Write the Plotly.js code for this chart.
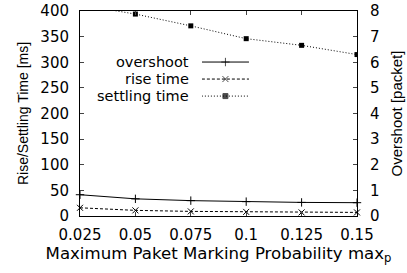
<!DOCTYPE html>
<html><head><meta charset="utf-8">
<script src="https://cdn.plot.ly/plotly-3.0.1.min.js"></script>
<style>html,body{margin:0;padding:0;background:#fff}#c{width:407px;height:273px}</style>
</head><body><div id="c"></div>
<script>
const probs = [0.025, 0.05, 0.075, 0.1, 0.125, 0.15];
const xTickText = ["0.025", "0.05", "0.075", "0.1", "0.125", "0.15"];
const overshootPackets = [0.83, 0.67, 0.60, 0.56, 0.53, 0.52];
const riseTimeMs = [16, 11, 9, 8, 7, 7];
const settlingTimeMs = [412, 394, 371, 346, 333, 315];
const seriesNames = ["overshoot", "rise time", "settling time"];
const leftTicks = [0, 50, 100, 150, 200, 250, 300, 350, 400];
const rightTicks = [0, 1, 2, 3, 4, 5, 6, 7, 8];

const hFont = "DejaVu Sans, Liberation Sans, sans-serif";
const vFont = "Liberation Sans, Arial, sans-serif";
const styles = [
  {dash: "solid", symbol: "cross-thin-open", size: 6},
  {dash: "3px,2px", symbol: "x-thin-open", size: 6},
  {dash: "1px,2px", symbol: "square", size: 5}
];

const data = [
  {x: probs, y: overshootPackets, yaxis: "y2", mode: "lines+markers", cliponaxis: false,
   line: {color: "#000", width: 1, dash: styles[0].dash},
   marker: {symbol: styles[0].symbol, size: styles[0].size, color: "#000", line: {color: "#000", width: 1}}},
  {x: probs, y: riseTimeMs, mode: "lines+markers", cliponaxis: false,
   line: {color: "#000", width: 1, dash: styles[1].dash},
   marker: {symbol: styles[1].symbol, size: styles[1].size, color: "#000", line: {color: "#000", width: 1}}},
  {x: probs, y: settlingTimeMs, mode: "lines+markers", cliponaxis: true,
   line: {color: "#000", width: 1, dash: styles[2].dash},
   marker: {symbol: styles[2].symbol, size: styles[2].size, color: "#000"}}
];

// custom legend (text left of sample, like gnuplot)
const annotations = [];
const legendRowsY = [0.751, 0.668, 0.585];
seriesNames.forEach((n, i) => {
  data.push({x: [0, 0.5, 1], y: [legendRowsY[i], legendRowsY[i], legendRowsY[i]], xaxis: "x3", yaxis: "y3",
    mode: "lines+markers", hoverinfo: "skip",
    line: {color: "#000", width: 1, dash: styles[i].dash},
    marker: {symbol: styles[i].symbol, size: [0, styles[i].size, 0], color: "#000", line: {color: "#000", width: 1}}});
  annotations.push({xref: "paper", yref: "paper", x: 0.4, y: legendRowsY[i], xanchor: "right", yanchor: "middle",
    text: n, showarrow: false, font: {family: hFont, size: 14.5, color: "#000"}});
});

const layout = {
  width: 407, height: 273,
  margin: {l: 80, r: 50, t: 11, b: 57},
  paper_bgcolor: "#fff", plot_bgcolor: "rgba(0,0,0,0)",
  showlegend: false,
  font: {family: hFont, size: 15, color: "#000"},
  xaxis: {range: [0.025, 0.15], tickvals: probs, ticktext: xTickText, ticks: "inside", ticklen: 4,
    showline: true, mirror: "ticks", linecolor: "#000", linewidth: 1, showgrid: false, zeroline: false,
    ticklabelstandoff: 5, tickfont: {family: hFont, size: 15},
    title: {text: "Maximum Paket Marking Probability max<sub>p</sub>", font: {family: hFont, size: 16.6}, standoff: 3}},
  yaxis: {range: [0, 400], tickvals: leftTicks, ticks: "inside", ticklen: 4,
    showline: true, mirror: true, linecolor: "#000", linewidth: 1, showgrid: false, zeroline: false,
    ticklabelstandoff: 7, tickfont: {family: hFont, size: 15},
    title: {text: "Rise/Settling Time [ms]", font: {family: vFont, size: 14}, standoff: 8}},
  yaxis2: {range: [0, 8], tickvals: rightTicks, overlaying: "y", side: "right", ticks: "inside", ticklen: 4,
    showline: true, linecolor: "#000", linewidth: 1, showgrid: false, zeroline: false,
    ticklabelstandoff: 9, tickfont: {family: hFont, size: 15},
    title: {text: "Overshoot [packet]", font: {family: vFont, size: 15}, standoff: 12}},
  xaxis3: {domain: [0.44, 0.61], range: [0, 1], visible: false, fixedrange: true},
  yaxis3: {domain: [0, 1], range: [0, 1], visible: false, anchor: "x3", overlaying: "y"},
  annotations: annotations
};
Plotly.newPlot("c", data, layout, {staticPlot: true, displayModeBar: false});
</script></body></html>
